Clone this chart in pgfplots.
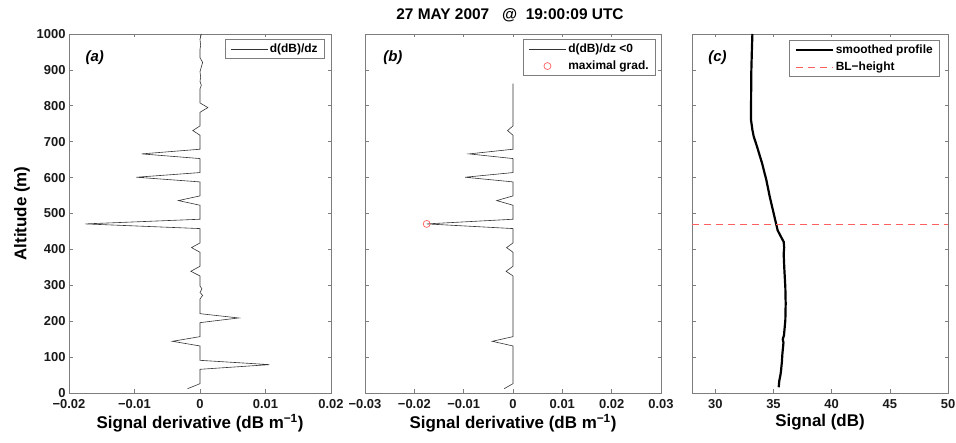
\documentclass[border=0pt]{standalone}
\usepackage{fontspec}
\setmainfont{Liberation Sans}
\usepackage{pgfplots}
\pgfplotsset{compat=1.18}
\definecolor{axgray}{RGB}{125,125,125}
\definecolor{bllred}{RGB}{255,95,95}

\pgfplotsset{
  panel/.style={
    scale only axis, height=359bp,
    anchor=south west,
    ymin=0, ymax=1000, ytick={0,100,...,1000},
    axis line style={axgray, line width=0.8pt},
    tick style={axgray, line width=0.6pt},
    tick align=inside, major tick length=3.5bp,
    xtick pos=both, ytick pos=both,
    scaled x ticks=false,
    /pgf/number format/assume math mode=true,
    /pgf/number format/set thousands separator={},
    ticklabel style={font=\bfseries\fontsize{13}{15}\selectfont, text=black!90},
    xticklabel style={yshift=-3bp},
    label style={font=\bfseries\fontsize{17}{19}\selectfont},
    xlabel style={yshift=1.5bp},
    legend cell align=left,
    legend style={draw=axgray, line width=0.6pt, font=\bfseries\fontsize{12}{14}\selectfont,
      inner xsep=5bp, inner ysep=2.5bp, row sep=3bp,
      nodes={inner sep=2bp}, anchor=north east},
  },
  lineleg/.style={legend image code/.code={\draw[##1] (0bp,0bp) -- (37bp,0bp);}},
  markleg/.style={legend image code/.code={\draw[mark repeat=2,mark phase=2,##1]
      plot coordinates {(0bp,0bp)(18.5bp,0bp)(37bp,0bp)};}},
}

\begin{document}
\begin{tikzpicture}
\useasboundingbox (0,0) rectangle (956bp,443bp);

\node[font=\bfseries\fontsize{15.5}{17}\selectfont] at (510bp,428bp) {27 MAY 2007 \ \ @ \ 19:00:09 UTC};

% (a)
\begin{axis}[panel, at={(69bp,50bp)}, width=262bp,
    xmin=-0.02, xmax=0.02,
    xtick={-0.02,-0.01,0,0.01,0.02},
    xticklabels={−0.02,−0.01,0,0.01,0.02},
    xlabel={Signal derivative (dB m\textsuperscript{−1})},
    ylabel={Altitude (m)},
    legend style={at={(0.977,0.986)}},
  ]
  \addplot[black!80, line width=0.6pt, lineleg] coordinates {
    (-0.0019,12) (0,26) (0,66) (0.0106,79) (0,91) (0,131) (-0.0042,144) (0,157)
    (0,196) (0.0059,209) (0,221) (0,262) (0.0004,272) (0,280) (0.0003,290) (0,298)
    (0,326) (-0.0014,339) (0,353) (0,392) (-0.0013,405) (0,418) (0,458) (-0.0175,471)
    (0,484) (0,523) (-0.0033,536) (0,549) (0,588) (-0.0097,601) (0,614) (0,653)
    (-0.0089,666) (0,679) (0,718) (-0.0011,731) (0,744) (0,782) (0.0012,795) (0,808)
    (0,847) (0.0002,857) (0,868) (0.0001,880) (0,895) (0.0004,921) (0,934)
    (0,958) (0.0001,968) (0,985) (0.0002,1000)
  };
  \addlegendentry{d(dB)/dz}
  \node[font=\bfseries\itshape\fontsize{15}{17}\selectfont, anchor=west]
    at (rel axis cs:0.05,0.935) {(a)};
\end{axis}

% (b)
\begin{axis}[panel, at={(365bp,50bp)}, width=296bp,
    xmin=-0.03, xmax=0.03,
    xtick={-0.03,-0.02,-0.01,0,0.01,0.02,0.03},
    xticklabels={−0.03,−0.02,−0.01,0,0.01,0.02,0.03},
    yticklabels={},
    xlabel={Signal derivative (dB m\textsuperscript{−1})},
    legend style={at={(0.983,0.986)}},
  ]
  \addplot[black!80, line width=0.6pt, lineleg] coordinates {
    (-0.0018,12) (0,26) (0,131) (-0.0042,144) (0,157) (0,326) (-0.0014,339) (0,353)
    (0,392) (-0.0013,405) (0,418) (0,458) (-0.0175,471) (0,484) (0,523)
    (-0.0033,536) (0,549) (0,588) (-0.0097,601) (0,614) (0,653) (-0.0089,666)
    (0,679) (0,718) (-0.0011,731) (0,744) (0,862)
  };
  \addlegendentry{d(dB)/dz <0}
  \addplot[only marks, mark=o, mark size=3.5bp, bllred, line width=0.7pt, markleg]
    coordinates {(-0.0175,471)};
  \addlegendentry{maximal grad.}
  \node[font=\bfseries\itshape\fontsize{15}{17}\selectfont, anchor=west]
    at (rel axis cs:0.05,0.935) {(b)};
\end{axis}

% (c)
\begin{axis}[panel, at={(692bp,50bp)}, width=256bp,
    xmin=28, xmax=50,
    xtick={30,35,40,45,50},
    yticklabels={},
    xlabel={Signal (dB)},
    legend style={at={(0.969,0.983)}},
  ]
  \addplot[black, line width=2.2pt, lineleg] coordinates {
    (35.45,16) (35.5,34) (35.6,50) (35.65,62) (35.72,85) (35.77,110) (35.86,140)
    (35.8,150) (35.9,160) (36.02,202) (36.05,249) (36.02,295) (35.94,342)
    (35.9,370) (35.88,388) (35.92,405) (35.88,421) (35.65,435) (35.36,453)
    (35.02,500) (34.68,547) (34.39,593) (34.02,640) (33.59,686) (33.3,715)
    (33.19,733) (33.07,761) (33.08,830) (33.1,900) (33.15,960) (33.19,1000)
  };
  \addlegendentry{smoothed profile}
  \addplot[bllred, dashed, dash pattern=on 7bp off 5bp, line width=0.8pt, lineleg]
    coordinates {(28,471) (50,471)};
  \addlegendentry{BL−height}
  \node[font=\bfseries\itshape\fontsize{15}{17}\selectfont, anchor=west]
    at (rel axis cs:0.05,0.935) {(c)};
\end{axis}
\end{tikzpicture}
\end{document}
